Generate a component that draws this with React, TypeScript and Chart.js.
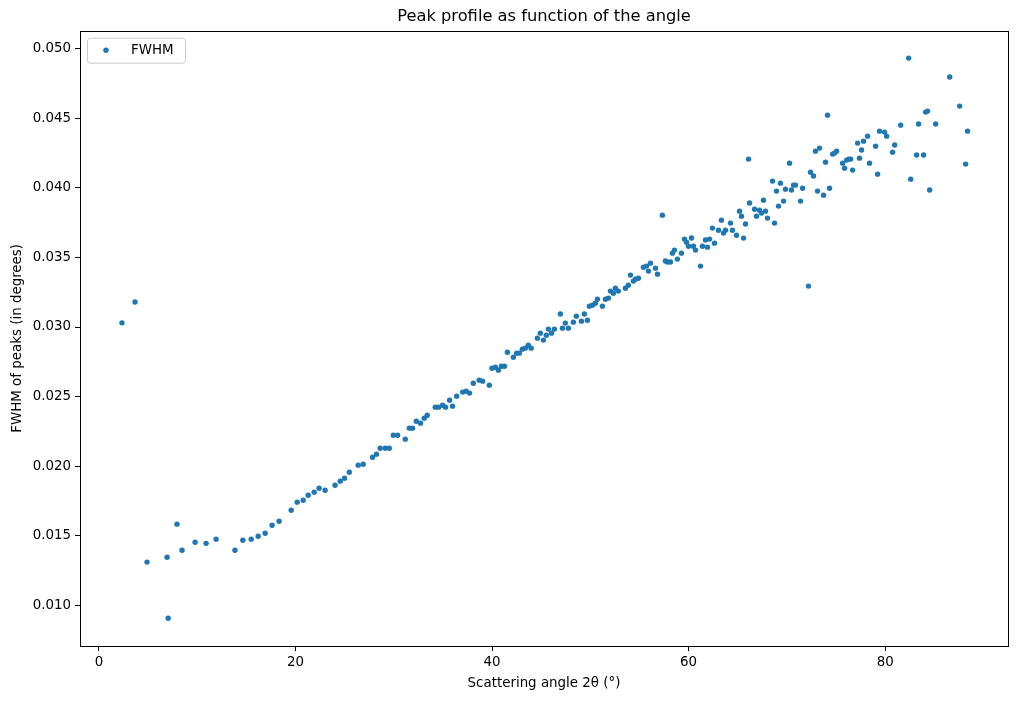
import React, { useEffect, useRef } from "react";
import { Chart, registerables } from "chart.js";

Chart.register(...registerables);

// scattering angle 2theta (degrees)
const angles: number[] = [
  2.34, 3.67, 4.89, 6.93, 7.04, 7.94, 8.45, 9.78, 10.9, 11.92,
  13.84, 14.64, 15.49, 16.2, 16.91, 17.62, 18.33, 19.56, 20.17, 20.78,
  21.29, 21.9, 22.4, 23.01, 24.02, 24.55, 24.99, 25.47, 26.38, 26.89,
  27.84, 28.24, 28.61, 29.13, 29.54, 29.95, 30.39, 31.17, 31.58, 31.91,
  32.29, 32.72, 33.1, 33.4, 34.22, 34.56, 34.97, 35.27, 35.68, 35.98,
  36.4, 37.01, 37.37, 37.71, 38.09, 38.69, 39.04, 39.72, 39.99, 40.33,
  40.64, 40.95, 41.26, 41.56, 42.17, 42.51, 42.77, 43.08, 43.38, 43.69,
  43.98, 44.61, 44.91, 45.22, 45.52, 45.73, 46.04, 46.34, 46.95, 47.16,
  47.45, 47.76, 48.27, 48.58, 49.09, 49.39, 49.7, 49.9, 50.21, 50.51,
  50.72, 51.23, 51.54, 51.84, 52.05, 52.35, 52.55, 52.85, 53.57, 53.87,
  54.08, 54.38, 54.59, 54.89, 55.4, 55.71, 55.91, 56.12, 56.63, 56.83,
  57.33, 57.64, 57.84, 58.15, 58.35, 58.56, 58.86, 59.27, 59.58, 59.78,
  59.99, 60.29, 60.49, 60.7, 61.21, 61.41, 61.72, 61.92, 62.13, 62.42,
  62.63, 63.04, 63.34, 63.55, 63.75, 64.26, 64.46, 64.87, 65.18, 65.38,
  65.59, 65.79, 66.1, 66.2, 66.71, 66.91, 67.21, 67.41, 67.62, 67.82,
  68.03, 68.54, 68.74, 68.94, 69.15, 69.35, 69.66, 69.86, 70.27, 70.47,
  70.68, 70.88, 71.39, 71.6, 72.2, 72.4, 72.71, 72.91, 73.12, 73.32,
  73.73, 73.93, 74.14, 74.34, 74.65, 74.85, 75.06, 75.67, 75.87, 76.08,
  76.28, 76.49, 76.69, 77.2, 77.39, 77.6, 77.8, 78.21, 78.41, 79.03,
  79.23, 79.43, 79.94, 80.15, 80.76, 80.97, 81.58, 82.39, 82.6, 83.2,
  83.4, 83.91, 84.12, 84.32, 84.53, 85.14, 86.57, 87.58, 88.19, 88.39,
];

// FWHM of peaks (degrees)
const fwhm: number[] = [
  0.0303, 0.0318, 0.0131, 0.01345, 0.00906, 0.01583, 0.01395, 0.01453, 0.01445, 0.01475,
  0.01395, 0.01468, 0.01475, 0.01496, 0.01518, 0.01575, 0.01604, 0.01683, 0.01741, 0.01755,
  0.01791, 0.01813, 0.01841, 0.01827, 0.01863, 0.01892, 0.01913, 0.01956, 0.02007, 0.02014,
  0.02064, 0.02086, 0.02129, 0.02129, 0.02129, 0.02222, 0.02222, 0.02194, 0.02273, 0.02273,
  0.02323, 0.02309, 0.02345, 0.02366, 0.02424, 0.02424, 0.02438, 0.02424, 0.02474, 0.02431,
  0.02503, 0.02532, 0.02539, 0.02525, 0.02596, 0.02618, 0.02611, 0.02582, 0.02704, 0.02711,
  0.0269, 0.02718, 0.02718, 0.02819, 0.02783, 0.02812, 0.02812, 0.02841, 0.02848, 0.02869,
  0.02848, 0.0292, 0.02956, 0.02906, 0.02941, 0.02985, 0.02956, 0.02985, 0.03093, 0.02992,
  0.03028, 0.02992, 0.03035, 0.03078, 0.03042, 0.03093, 0.03049, 0.0315, 0.03157, 0.03171,
  0.032, 0.0315, 0.032, 0.03208, 0.03258, 0.03243, 0.03279, 0.03258, 0.03279, 0.03301,
  0.03373, 0.0333, 0.03344, 0.03351, 0.0343, 0.03438, 0.03402, 0.03459, 0.03423, 0.0338,
  0.03804, 0.03474, 0.03467, 0.03467, 0.03531, 0.03553, 0.03488, 0.03531, 0.03632, 0.0361,
  0.03581, 0.0364, 0.03581, 0.03553, 0.03438, 0.03581, 0.03625, 0.03574, 0.03632, 0.03711,
  0.03603, 0.03696, 0.03768, 0.03675, 0.03696, 0.03747, 0.03696, 0.0366, 0.03833, 0.03797,
  0.03639, 0.0374, 0.04207, 0.03891, 0.03847, 0.03797, 0.0384, 0.03819, 0.03912, 0.03833,
  0.03783, 0.04049, 0.03747, 0.03977, 0.03869, 0.04034, 0.03905, 0.03991, 0.04178, 0.03985,
  0.0402, 0.0402, 0.03905, 0.03998, 0.03294, 0.04113, 0.04085, 0.04264, 0.03977, 0.04286,
  0.03948, 0.04185, 0.04523, 0.03998, 0.04243, 0.0425, 0.04264, 0.04178, 0.04142, 0.042,
  0.04207, 0.04207, 0.04128, 0.04322, 0.04214, 0.04272, 0.04336, 0.04372, 0.04178, 0.043,
  0.04099, 0.04408, 0.04401, 0.04372, 0.04257, 0.04308, 0.04451, 0.04933, 0.04063, 0.04236,
  0.04459, 0.04236, 0.04545, 0.04552, 0.03985, 0.04459, 0.04797, 0.04588, 0.04171, 0.04408,
];

const xTicks = [0, 20, 40, 60, 80];
const yTicks = [0.01, 0.015, 0.02, 0.025, 0.03, 0.035, 0.04, 0.045, 0.05];

const TITLE = "Peak profile as function of the angle";
const BLUE = "#1f77b4";
const FONT = "'DejaVu Sans', sans-serif";

// frame around the plot area, title centred over it, legend in the upper left corner
const framePlugin = {
  id: "frame",
  afterDraw(chart: Chart) {
    const { ctx, chartArea: a } = chart;
    ctx.save();
    ctx.strokeStyle = "#000";
    ctx.lineWidth = 1;
    ctx.strokeRect(Math.round(a.left) + 0.5, Math.round(a.top) + 0.5, Math.round(a.right - a.left), Math.round(a.bottom - a.top));

    ctx.fillStyle = "#000";
    ctx.font = `16.3px ${FONT}`;
    ctx.textAlign = "center";
    ctx.textBaseline = "middle";
    ctx.fillText(TITLE, (a.left + a.right) / 2, 16.5);

    const lx = a.left + 7;
    const ly = a.top + 7;
    ctx.beginPath();
    if ((ctx as any).roundRect) (ctx as any).roundRect(lx + 0.5, ly + 0.5, 98, 25, 3);
    else ctx.rect(lx + 0.5, ly + 0.5, 98, 25);
    ctx.fillStyle = "rgba(255,255,255,0.8)";
    ctx.fill();
    ctx.strokeStyle = "#cccccc";
    ctx.stroke();

    ctx.beginPath();
    ctx.arc(lx + 19, ly + 12.5, 2.7, 0, Math.PI * 2);
    ctx.fillStyle = BLUE;
    ctx.fill();

    ctx.fillStyle = "#000";
    ctx.font = `13.4px ${FONT}`;
    ctx.textBaseline = "middle";
    ctx.textAlign = "left";
    ctx.fillText("FWHM", lx + 44, ly + 13);
    ctx.restore();
  },
};

const PeakChart: React.FC = () => {
  const canvasRef = useRef<HTMLCanvasElement | null>(null);
  const chartInstance = useRef<Chart | null>(null);

  useEffect(() => {
    if (!canvasRef.current) return;
    if (chartInstance.current) chartInstance.current.destroy();

    chartInstance.current = new Chart(canvasRef.current, {
      type: "scatter",
      data: {
        datasets: [
          {
            label: "FWHM",
            data: angles.map((x, i) => ({ x, y: fwhm[i] })),
            backgroundColor: BLUE,
            borderColor: BLUE,
            borderWidth: 0,
            pointRadius: 2.7,
            pointHoverRadius: 2.7,
          },
        ],
      },
      options: {
        animation: false,
        responsive: true,
        maintainAspectRatio: false,
        events: [],
        layout: { padding: { left: 0, right: 11, top: 30.7, bottom: 0 } },
        plugins: {
          legend: { display: false },
          tooltip: { enabled: false },
          title: { display: false },
        },
        scales: {
          x: {
            type: "linear",
            min: -1.93,
            max: 92.5,
            afterBuildTicks: (scale: any) => {
              scale.ticks = xTicks.map((value) => ({ value }));
            },
            afterFit: (scale: any) => {
              scale.height = 55;
            },
            grid: { drawOnChartArea: false, color: "#000", tickLength: 5 },
            border: { display: false },
            ticks: {
              color: "#000",
              font: { family: FONT, size: 13.4 },
              padding: 3,
              maxRotation: 0,
            },
            title: {
              display: true,
              text: "Scattering angle 2θ (°)",
              color: "#000",
              font: { family: FONT, size: 13.4 },
              padding: { top: 0, bottom: 9 },
            },
          },
          y: {
            type: "linear",
            min: 0.00707,
            max: 0.0513,
            afterBuildTicks: (scale: any) => {
              scale.ticks = yTicks.map((value) => ({ value }));
            },
            afterFit: (scale: any) => {
              scale.width = 80;
            },
            grid: { drawOnChartArea: false, color: "#000", tickLength: 5 },
            border: { display: false },
            ticks: {
              color: "#000",
              font: { family: FONT, size: 13.4 },
              padding: 4,
              callback: (v: any) => Number(v).toFixed(3),
            },
            title: {
              display: true,
              text: "FWHM of peaks (in degrees)",
              color: "#000",
              font: { family: FONT, size: 13.4 },
              padding: { top: 9, bottom: 0 },
            },
          },
        },
      },
      plugins: [framePlugin],
    });

    return () => {
      if (chartInstance.current) {
        chartInstance.current.destroy();
        chartInstance.current = null;
      }
    };
  }, []);

  return <canvas ref={canvasRef} />;
};

export default function App() {
  return (
    <div style={{ position: "fixed", left: 0, top: 0, width: 1019, height: 701, background: "#fff" }}>
      <PeakChart />
    </div>
  );
}
